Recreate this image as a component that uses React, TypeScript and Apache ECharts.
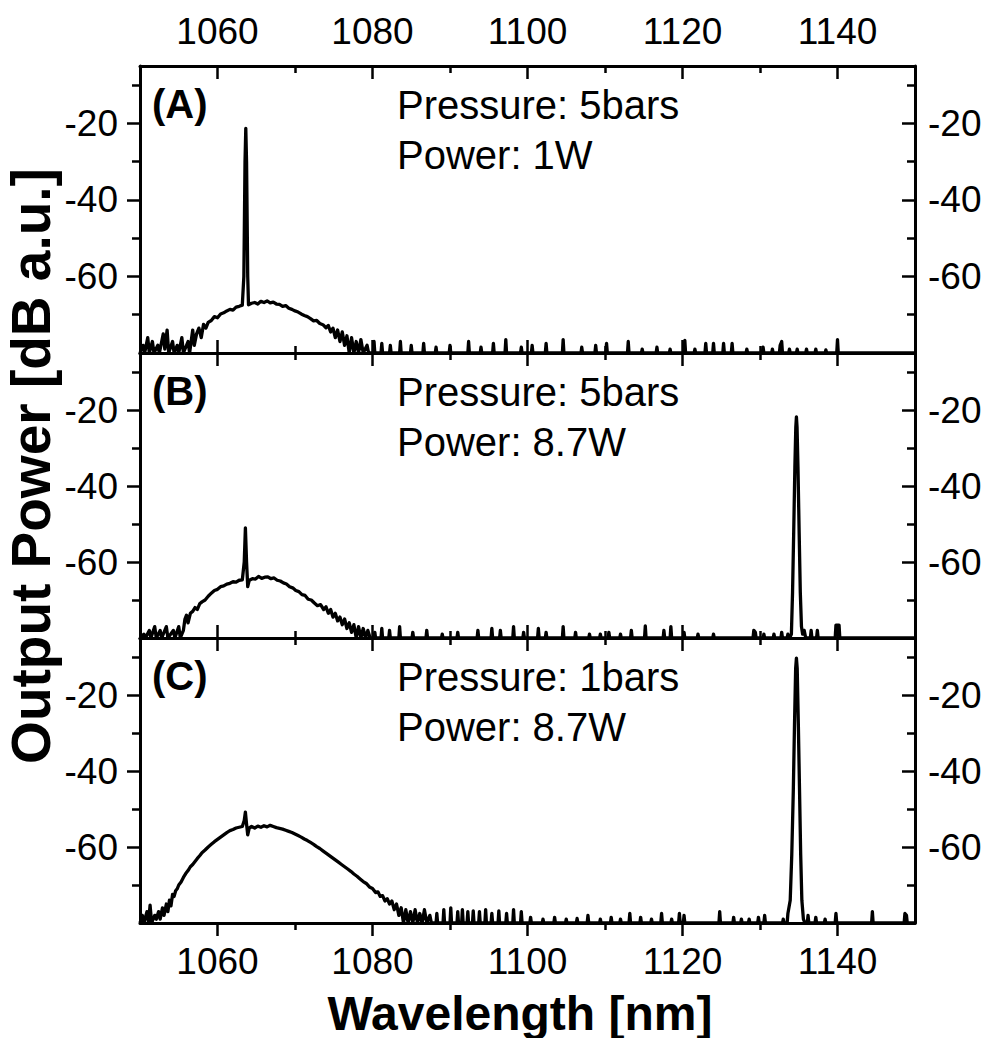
import React, { useEffect, useRef } from "react";
import * as echarts from "echarts";

// ---------- data (wavelength nm, power dB a.u.) ----------
const xMajorTicks = [1060, 1080, 1100, 1120, 1140];
const xMinorTicks = [1070, 1090, 1110, 1130];
const yMajorTicks = [-60, -40, -20];
const yMinorTicks = [-70, -50, -30, -10];

const panelLetters = ["(A)", "(B)", "(C)"];
const pressureLabels = ["Pressure: 5bars", "Pressure: 5bars", "Pressure: 1bars"];
const powerLabels = ["Power: 1W", "Power: 8.7W", "Power: 8.7W"];

const spectrumA: number[][] = [
  [1050.0, -80], [1050.4, -78], [1050.6, -80], [1051.0, -76], [1051.2, -80], [1051.6, -77], [1051.8, -80],
  [1052.3, -78], [1052.5, -80], [1053.0, -75], [1053.2, -79], [1053.5, -74], [1053.7, -80], [1054.2, -77],
  [1054.4, -80], [1054.8, -78], [1055.0, -80], [1055.4, -76], [1055.6, -80], [1056.2, -77], [1056.4, -80],
  [1056.8, -74], [1057.0, -78], [1057.3, -75], [1057.6, -73.5], [1057.9, -76], [1058.2, -72.5], [1058.5, -73.5],
  [1058.8, -72], [1059.2, -71.5], [1059.6, -70.5], [1060.0, -70.8], [1060.4, -69.8], [1060.8, -69.5],
  [1061.2, -69], [1061.6, -68.6], [1062.0, -68.8], [1062.4, -68], [1062.8, -67.8], [1063.2, -67.5],
  [1063.4, -60], [1063.55, -30], [1063.65, -21.3], [1063.75, -30], [1063.9, -60], [1064.0, -67.4],
  [1064.4, -67], [1064.8, -66.8], [1065.2, -67.2], [1065.6, -66.5], [1066.0, -66.8], [1066.4, -66.4],
  [1066.8, -66.9], [1067.2, -66.7], [1067.6, -67.2], [1068.0, -67.3], [1068.4, -67.8], [1068.8, -67.6],
  [1069.2, -68.3], [1069.6, -68.6], [1070.0, -69], [1070.4, -69.3], [1070.8, -69.8], [1071.2, -70.2],
  [1071.6, -70.5], [1072.0, -71], [1072.4, -71.6], [1072.8, -71.5], [1073.2, -72.3], [1073.6, -72.6],
  [1074.0, -73.4], [1074.3, -72.8], [1074.6, -74.5], [1074.9, -73.5], [1075.2, -76], [1075.5, -74],
  [1075.8, -77], [1076.1, -74.5], [1076.4, -78], [1076.7, -75.5], [1077.0, -80], [1077.3, -76],
  [1077.6, -80], [1077.9, -77], [1078.2, -80], [1078.5, -76.5], [1078.8, -80], [1079.3, -78], [1079.5, -80],
  [1080.1, -80], [1080.2, -77], [1080.3, -80], [1081.1, -80], [1081.2, -77.5], [1081.3, -80],
  [1082.2, -80], [1082.3, -78], [1082.4, -80], [1083.5, -80], [1083.6, -77], [1083.7, -80],
  [1084.9, -80], [1085.0, -78], [1085.1, -80], [1086.5, -80], [1086.6, -77.5], [1086.7, -80],
  [1088.1, -80], [1088.2, -78.5], [1088.3, -80], [1089.9, -80], [1090.0, -78], [1090.1, -80],
  [1092.3, -80], [1092.4, -77], [1092.5, -80], [1093.9, -80], [1094.0, -78.5], [1094.1, -80],
  [1095.5, -80], [1095.6, -77.5], [1095.7, -80], [1097.1, -80], [1097.2, -76.5], [1097.3, -80],
  [1099.1, -80], [1099.2, -78.5], [1099.3, -80], [1100.5, -80], [1100.6, -78], [1100.7, -80],
  [1102.3, -80], [1102.4, -77.5], [1102.5, -80], [1104.5, -80], [1104.6, -76.5], [1104.7, -80],
  [1106.9, -80], [1107.0, -78.5], [1107.1, -80], [1108.7, -80], [1108.8, -78], [1108.9, -80],
  [1110.1, -80], [1110.2, -77.5], [1110.3, -80], [1112.9, -80], [1113.0, -77], [1113.1, -80],
  [1114.7, -80], [1114.8, -79], [1114.9, -80], [1116.6, -80], [1116.7, -78.5], [1116.8, -80],
  [1118.3, -80], [1118.4, -79], [1118.5, -80], [1120.2, -80], [1120.3, -76.7], [1120.4, -80],
  [1121.5, -80], [1121.6, -79], [1121.7, -80], [1122.9, -80], [1123.0, -77.5], [1123.1, -80],
  [1123.9, -80], [1124.0, -77.5], [1124.1, -80], [1125.2, -80], [1125.3, -77.5], [1125.4, -80],
  [1126.3, -80], [1126.4, -77.5], [1126.5, -80], [1128.2, -80], [1128.3, -79], [1128.4, -80],
  [1130.3, -80], [1130.4, -78.5], [1130.5, -80], [1131.5, -80], [1131.6, -79], [1131.7, -80],
  [1132.5, -80], [1132.6, -78], [1132.8, -77], [1132.9, -80], [1133.7, -80], [1133.8, -79], [1133.9, -80],
  [1134.7, -80], [1134.8, -79], [1134.9, -80], [1135.9, -80], [1136.0, -79], [1136.1, -80],
  [1137.1, -80], [1137.2, -79], [1137.3, -80], [1138.4, -80], [1138.5, -79.2], [1138.6, -80],
  [1139.9, -80], [1140.0, -76.5], [1140.1, -80], [1150.0, -80],
];

const spectrumB: number[][] = [
  [1050.0, -80], [1050.5, -79], [1050.7, -80], [1051.2, -78], [1051.4, -80], [1051.9, -77], [1052.1, -80],
  [1052.6, -78], [1052.8, -80], [1053.4, -77], [1053.6, -80], [1054.3, -78], [1054.5, -80], [1055.0, -77],
  [1055.2, -80], [1055.6, -78], [1055.8, -75], [1056.0, -74], [1056.2, -76], [1056.5, -73.5], [1056.8, -73],
  [1057.1, -72], [1057.4, -72.5], [1057.7, -71], [1058.0, -70.5], [1058.4, -70], [1058.8, -69],
  [1059.2, -68.2], [1059.6, -67.5], [1060.0, -67.2], [1060.4, -66.5], [1060.8, -66.3], [1061.2, -65.8],
  [1061.6, -65.6], [1062.0, -65.2], [1062.4, -65.3], [1062.8, -64.8], [1063.2, -64.7], [1063.45, -60],
  [1063.6, -51], [1063.75, -60], [1063.9, -66.5], [1064.1, -64.8], [1064.5, -64.4], [1064.9, -64.5],
  [1065.3, -63.8], [1065.7, -64.3], [1066.1, -64], [1066.5, -63.9], [1066.9, -64.4], [1067.3, -64.2],
  [1067.7, -64.8], [1068.1, -65], [1068.5, -65.5], [1068.9, -65.8], [1069.3, -66.5], [1069.7, -66.8],
  [1070.1, -67.5], [1070.5, -67.8], [1070.9, -68.6], [1071.3, -68.8], [1071.7, -69.8], [1072.1, -70],
  [1072.5, -70.8], [1072.9, -71.5], [1073.3, -71.2], [1073.7, -72.5], [1074.0, -71.8], [1074.3, -73.5],
  [1074.6, -72.5], [1074.9, -74.5], [1075.2, -73.5], [1075.5, -75.5], [1075.8, -74.5], [1076.1, -76.5],
  [1076.4, -75], [1076.7, -77.5], [1077.0, -76], [1077.3, -78.5], [1077.6, -76.5], [1077.9, -80],
  [1078.2, -77], [1078.5, -80], [1078.8, -77.5], [1079.1, -80], [1079.4, -78], [1079.7, -80],
  [1080.2, -80], [1080.3, -78.5], [1080.4, -80], [1081.1, -80], [1081.2, -77.5], [1081.3, -80],
  [1082.1, -80], [1082.2, -78], [1082.3, -80], [1083.4, -80], [1083.5, -77], [1083.6, -80],
  [1085.1, -80], [1085.2, -78.5], [1085.3, -80], [1086.9, -80], [1087.0, -78], [1087.1, -80],
  [1088.9, -80], [1089.0, -79], [1089.1, -80], [1090.9, -80], [1091.0, -78.5], [1091.1, -80],
  [1093.5, -80], [1093.6, -78], [1093.7, -80], [1095.3, -80], [1095.4, -77.5], [1095.5, -80],
  [1096.4, -80], [1096.5, -78], [1096.6, -80], [1098.1, -80], [1098.2, -77], [1098.3, -80],
  [1099.4, -80], [1099.5, -78.5], [1099.6, -80], [1101.3, -80], [1101.4, -77.5], [1101.5, -80],
  [1102.3, -80], [1102.4, -78.5], [1102.5, -80], [1104.5, -80], [1104.6, -77], [1104.7, -80],
  [1106.1, -80], [1106.2, -78.5], [1106.3, -80], [1107.9, -80], [1108.0, -79], [1108.1, -80],
  [1109.3, -80], [1109.4, -79], [1109.5, -80], [1110.4, -80], [1110.5, -78.5], [1110.6, -80],
  [1111.9, -80], [1112.0, -79], [1112.1, -80], [1113.3, -80], [1113.4, -78], [1113.5, -80],
  [1115.1, -80], [1115.2, -76.8], [1115.3, -80], [1117.5, -80], [1117.6, -78], [1117.7, -80],
  [1118.4, -80], [1118.5, -77], [1118.6, -80], [1120.1, -80], [1120.2, -78.5], [1120.3, -80],
  [1121.9, -80], [1122.0, -79], [1122.1, -80], [1123.9, -80], [1124.0, -79], [1124.1, -80],
  [1129.1, -80], [1129.2, -78], [1129.4, -78.5], [1129.5, -80], [1130.4, -80], [1130.5, -79], [1130.6, -80],
  [1131.7, -80], [1131.8, -79], [1131.9, -80], [1132.7, -80], [1132.8, -78.5], [1132.9, -80],
  [1133.5, -80], [1133.6, -79], [1133.8, -80], [1134.05, -79],
  [1134.2, -68], [1134.35, -52], [1134.5, -35], [1134.62, -24.5], [1134.7, -21.8], [1134.78, -24.5],
  [1134.9, -35], [1135.05, -52], [1135.2, -68], [1135.35, -77], [1135.5, -79], [1135.7, -78], [1135.9, -80],
  [1136.5, -80], [1136.6, -78], [1136.7, -80], [1137.3, -80], [1137.4, -78], [1137.5, -80],
  [1139.7, -80], [1139.8, -76.6], [1140.2, -76.6], [1140.3, -80], [1150.0, -80],
];

const spectrumC: number[][] = [
  [1050.0, -80], [1050.3, -78], [1050.5, -80], [1050.9, -77], [1051.1, -80], [1051.3, -75.3], [1051.5, -80],
  [1051.9, -78], [1052.1, -79], [1052.4, -77], [1052.6, -79], [1052.9, -76], [1053.1, -78], [1053.4, -75],
  [1053.6, -77], [1053.8, -74], [1054.0, -75.5], [1054.2, -72.5], [1054.4, -73], [1054.6, -71.5],
  [1054.8, -71], [1055.0, -70], [1055.3, -69.2], [1055.6, -68], [1055.9, -67], [1056.2, -66.2],
  [1056.5, -65.2], [1056.8, -64.6], [1057.1, -63.8], [1057.4, -63], [1057.7, -62.3], [1058.0, -61.5],
  [1058.4, -60.8], [1058.8, -60], [1059.2, -59.3], [1059.6, -58.6], [1060.0, -58], [1060.4, -57.4],
  [1060.8, -56.8], [1061.2, -56.2], [1061.6, -55.7], [1062.0, -55.4], [1062.4, -55], [1062.8, -54.8],
  [1063.2, -54.6], [1063.45, -53], [1063.6, -50.8], [1063.75, -54], [1063.9, -56.8], [1064.1, -55],
  [1064.4, -54.6], [1064.8, -55], [1065.2, -54.5], [1065.6, -54.8], [1066.0, -54.4], [1066.4, -54.7],
  [1066.8, -54.3], [1067.2, -54.6], [1067.6, -54.9], [1068.0, -55.1], [1068.4, -55.3], [1068.8, -55.6],
  [1069.2, -55.9], [1069.6, -56.2], [1070.0, -56.6], [1070.4, -57], [1070.8, -57.4], [1071.2, -57.9],
  [1071.6, -58.3], [1072.0, -58.8], [1072.4, -59.3], [1072.8, -59.9], [1073.2, -60.4], [1073.6, -61],
  [1074.0, -61.6], [1074.4, -62.2], [1074.8, -62.8], [1075.2, -63.4], [1075.6, -64], [1076.0, -64.6],
  [1076.4, -65.2], [1076.8, -65.8], [1077.2, -66.4], [1077.6, -67.1], [1078.0, -67.7], [1078.4, -68.4],
  [1078.8, -69.1], [1079.2, -69.6], [1079.6, -70.5], [1080.0, -70.9], [1080.4, -72], [1080.7, -71.8],
  [1081.0, -73], [1081.3, -72.8], [1081.6, -74.2], [1081.9, -73.6], [1082.2, -75], [1082.5, -74.2],
  [1082.8, -76.5], [1083.1, -75], [1083.4, -78], [1083.7, -76], [1084.0, -80], [1084.3, -76.5],
  [1084.6, -80], [1084.9, -77], [1085.2, -80], [1085.5, -76.5], [1085.8, -80], [1086.1, -77.5],
  [1086.4, -80], [1086.7, -76.5], [1087.0, -80], [1087.4, -78], [1087.6, -80],
  [1088.2, -80], [1088.3, -77.5], [1088.4, -80], [1089.1, -80], [1089.2, -76.5], [1089.3, -80],
  [1090.0, -80], [1090.1, -76], [1090.2, -80], [1090.9, -80], [1091.0, -77], [1091.1, -80],
  [1091.5, -80], [1091.6, -76.5], [1091.7, -80], [1092.2, -80], [1092.3, -77], [1092.4, -80],
  [1092.9, -80], [1093.0, -76.8], [1093.1, -80], [1093.7, -80], [1093.8, -77], [1093.9, -80],
  [1094.5, -80], [1094.6, -76.5], [1094.7, -80], [1095.3, -80], [1095.4, -77.5], [1095.5, -80],
  [1096.2, -80], [1096.3, -76.8], [1096.4, -80], [1097.2, -80], [1097.3, -77.5], [1097.4, -80],
  [1098.1, -80], [1098.2, -76.5], [1098.3, -80], [1099.1, -80], [1099.2, -77], [1099.3, -80],
  [1100.3, -80], [1100.4, -78.5], [1100.5, -80], [1101.9, -80], [1102.0, -79], [1102.1, -80],
  [1103.4, -80], [1103.5, -78.5], [1103.6, -80], [1104.9, -80], [1105.0, -79], [1105.1, -80],
  [1106.3, -80], [1106.4, -78.8], [1106.5, -80], [1107.7, -80], [1107.8, -78], [1107.9, -80],
  [1109.3, -80], [1109.4, -79], [1109.5, -80], [1110.7, -80], [1110.8, -78.5], [1110.9, -80],
  [1111.9, -80], [1112.0, -79], [1112.1, -80], [1113.1, -80], [1113.2, -77.5], [1113.3, -80],
  [1114.5, -80], [1114.6, -78.5], [1114.7, -80], [1115.9, -80], [1116.0, -79], [1116.1, -80],
  [1117.2, -80], [1117.3, -77.5], [1117.4, -80], [1118.5, -80], [1118.6, -79], [1118.7, -80],
  [1119.5, -80], [1119.6, -77.5], [1119.7, -80], [1120.1, -80], [1120.2, -78], [1120.3, -80],
  [1124.7, -80], [1124.8, -77], [1124.9, -80], [1126.5, -80], [1126.6, -78.5], [1126.7, -80],
  [1127.5, -80], [1127.6, -79], [1127.7, -80], [1128.5, -80], [1128.6, -79], [1128.7, -80],
  [1129.7, -80], [1129.8, -78.5], [1129.9, -80], [1130.5, -80], [1130.6, -78], [1130.7, -80],
  [1132.9, -80], [1133.0, -79], [1133.1, -80], [1133.5, -80],
  [1133.6, -77.5], [1133.9, -74], [1134.1, -62], [1134.3, -45], [1134.45, -28], [1134.6, -13],
  [1134.7, -10.3], [1134.8, -13], [1134.95, -28], [1135.1, -45], [1135.25, -62], [1135.4, -74],
  [1135.6, -79], [1135.8, -80], [1136.1, -80], [1136.2, -78], [1136.3, -80], [1137.1, -80], [1137.2, -78.5],
  [1137.3, -80], [1138.3, -80], [1138.4, -79], [1138.5, -80], [1139.7, -80], [1139.8, -77.5], [1139.9, -80],
  [1144.4, -80], [1144.5, -77], [1144.6, -80], [1148.6, -80], [1148.7, -77.5], [1148.9, -78], [1149.0, -80],
  [1150.0, -80],
];

const spectra = [spectrumA, spectrumB, spectrumC];

// ---------- layout ----------
const FONT = "'Liberation Sans', Arial, Helvetica, sans-serif";
const gridTops = [66, 353, 638];
const gridHeights = [287, 285, 285];
const GRID_LEFT = 140;
const GRID_RIGHT = 73;

const plainNumber = (v: number) => String(v);

export default function App() {
  const ref = useRef<HTMLDivElement>(null);

  useEffect(() => {
    if (!ref.current) return;
    const chart = echarts.init(ref.current, undefined, { renderer: "svg" });

    const grid = gridTops.map((top, i) => ({
      left: GRID_LEFT,
      right: GRID_RIGHT,
      top,
      height: gridHeights[i],
      containLabel: false,
    }));

    const line = { lineStyle: { color: "#000", width: 3 } };
    const tickStyle = { color: "#000", width: 2.5 };
    const labelStyle = { color: "#000", fontSize: 37, fontFamily: FONT, formatter: plainNumber };
    const xAxis: any[] = [];
    const yAxis: any[] = [];
    gridTops.forEach((_, g) => {
      const base = { type: "value", gridIndex: g, min: 1050, max: 1150, splitLine: { show: false } };
      xAxis.push({
        ...base,
        position: "bottom",
        axisLine: { show: true, onZero: false, ...line },
        axisTick: { show: true, customValues: xMajorTicks, length: 13, inside: g < 2, lineStyle: tickStyle },
        axisLabel: { show: g === 2, customValues: xMajorTicks, margin: 20, ...labelStyle },
      });
      xAxis.push({
        ...base,
        position: "bottom",
        axisLine: { show: false, onZero: false },
        axisTick: { show: true, customValues: xMinorTicks, length: 7, inside: g < 2, lineStyle: tickStyle },
        axisLabel: { show: false },
      });
      xAxis.push({
        ...base,
        position: "top",
        axisLine: { show: true, onZero: false, ...line },
        axisTick: { show: true, customValues: xMajorTicks, length: 13, inside: true, lineStyle: tickStyle },
        axisLabel: { show: g === 0, customValues: xMajorTicks, margin: 16, ...labelStyle },
      });
      xAxis.push({
        ...base,
        position: "top",
        axisLine: { show: false, onZero: false },
        axisTick: { show: true, customValues: xMinorTicks, length: 7, inside: true, lineStyle: tickStyle },
        axisLabel: { show: false },
      });

      const ybase = { type: "value", gridIndex: g, min: -80, max: -5, splitLine: { show: false } };
      yAxis.push({
        ...ybase,
        position: "left",
        axisLine: { show: true, onZero: false, ...line },
        axisTick: { show: true, customValues: yMajorTicks, length: 13, inside: false, lineStyle: tickStyle },
        axisLabel: { show: true, customValues: yMajorTicks, margin: 22, ...labelStyle },
      });
      yAxis.push({
        ...ybase,
        position: "left",
        axisLine: { show: false, onZero: false },
        axisTick: { show: true, customValues: yMinorTicks, length: 8, inside: false, lineStyle: tickStyle },
        axisLabel: { show: false },
      });
      yAxis.push({
        ...ybase,
        position: "right",
        axisLine: { show: true, onZero: false, ...line },
        axisTick: { show: true, customValues: yMajorTicks, length: 13, inside: true, lineStyle: tickStyle },
        axisLabel: { show: true, customValues: yMajorTicks, margin: 13, ...labelStyle },
      });
      yAxis.push({
        ...ybase,
        position: "right",
        axisLine: { show: false, onZero: false },
        axisTick: { show: true, customValues: yMinorTicks, length: 8, inside: true, lineStyle: tickStyle },
        axisLabel: { show: false },
      });
    });

    const series = spectra.map((data, g) => ({
      type: "line",
      xAxisIndex: g * 4,
      yAxisIndex: g * 4,
      data,
      showSymbol: false,
      symbol: "none",
      clip: true,
      lineStyle: { color: "#000", width: 3.3, join: "round" },
      z: 3,
    }));

    const graphic: any[] = [];
    gridTops.forEach((top, g) => {
      graphic.push({
        type: "text", x: 152, y: top + 38,
        style: {
          text: panelLetters[g], fontSize: 40, fontWeight: "bold", fontFamily: FONT,
          fill: "#000", align: "left", verticalAlign: "middle",
        },
      });
      graphic.push({
        type: "text", x: 397, y: top + 39,
        style: {
          text: pressureLabels[g], fontSize: 40, fontFamily: FONT,
          fill: "#000", align: "left", verticalAlign: "middle",
        },
      });
      graphic.push({
        type: "text", x: 397, y: top + 89,
        style: {
          text: powerLabels[g], fontSize: 40, fontFamily: FONT,
          fill: "#000", align: "left", verticalAlign: "middle",
        },
      });
    });
    graphic.push({
      type: "text", x: 31, y: 466, rotation: Math.PI / 2,
      style: {
        text: "Output Power [dB a.u.]", fontSize: 55, fontWeight: "bold", fontFamily: FONT,
        fill: "#000", align: "center", verticalAlign: "middle",
      },
    });
    graphic.push({
      type: "text", x: 520, y: 1013,
      style: {
        text: "Wavelength [nm]", fontSize: 48, fontWeight: "bold", fontFamily: FONT,
        fill: "#000", align: "center", verticalAlign: "middle",
      },
    });

    chart.setOption({
      animation: false,
      backgroundColor: "#fff",
      grid,
      xAxis,
      yAxis,
      series,
      graphic,
    });

    return () => chart.dispose();
  }, []);

  return (
    <div
      ref={ref}
      style={{ position: "fixed", left: 0, top: 0, width: 988, height: 1038, background: "#fff" }}
    />
  );
}
